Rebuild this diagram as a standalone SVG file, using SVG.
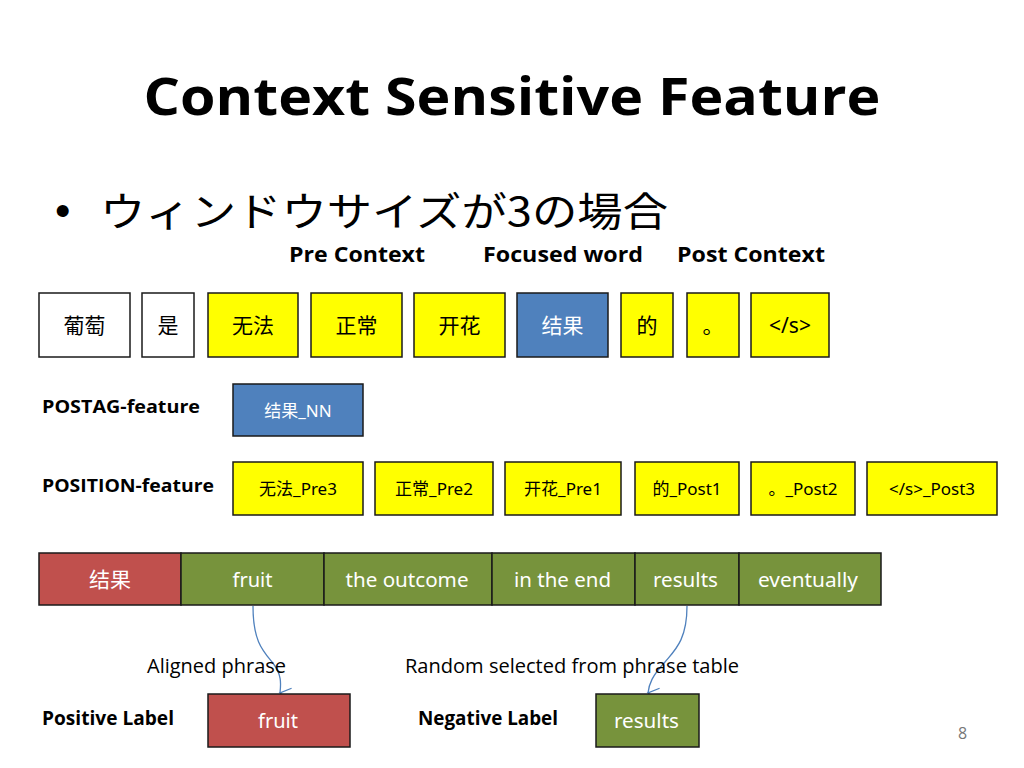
<svg xmlns="http://www.w3.org/2000/svg" width="1024" height="768" viewBox="0 0 1024 768">
<style>
.b{stroke:#1a1a1a;stroke-width:1.5}
.w{fill:#fff}.y{fill:#ffff00}.bl{fill:#4f81bd}.r{fill:#c0504d}.g{fill:#77933c}
.t{font-family:"Noto Sans","Noto Sans CJK SC",sans-serif;font-size:21px;text-anchor:middle;dominant-baseline:central;fill:#000}
.tw{fill:#fff}
.s{font-size:17px}
.m{font-size:20px}
.lb{font-family:"Open Sans","Noto Sans",sans-serif;font-weight:bold;fill:#000}
.ln{font-family:"Open Sans","Noto Sans",sans-serif;fill:#000}
.c{fill:none;stroke:#4f81bd;stroke-width:1.3}
</style>
<defs>
<marker id="ah" markerWidth="14" markerHeight="14" refX="7" refY="12" orient="auto" markerUnits="userSpaceOnUse" viewBox="0 0 14 14">
<path d="M1,1 L7,12 L13,1" fill="none" stroke="#4f81bd" stroke-width="1.3"/>
</marker>
</defs>
<rect width="1024" height="768" fill="#fff"/>
<text x="512" y="115" text-anchor="middle" font-family="'Open Sans','Noto Sans',sans-serif" font-weight="bold" font-size="52" textLength="737" lengthAdjust="spacingAndGlyphs">Context Sensitive Feature</text>
<text x="55" y="226" font-family="'Liberation Sans',sans-serif" font-size="44">•</text>
<text x="100" y="226" font-family="'Noto Sans CJK JP','Noto Sans',sans-serif" font-size="40" textLength="568" lengthAdjust="spacingAndGlyphs">ウィンドウサイズが3の場合</text>
<g class="lb" font-size="22">
<text x="289" y="262" textLength="136" lengthAdjust="spacingAndGlyphs">Pre Context</text>
<text x="483" y="262" textLength="160" lengthAdjust="spacingAndGlyphs">Focused word</text>
<text x="677" y="262" textLength="148" lengthAdjust="spacingAndGlyphs">Post Context</text>
</g>
<g id="row1">
<g id="n1"><rect class="b w" x="39" y="293" width="91" height="64"/><text class="t" x="84.5" y="325">葡萄</text></g>
<g id="n2"><rect class="b w" x="142" y="293" width="52" height="64"/><text class="t" x="168" y="325">是</text></g>
<g id="n3"><rect class="b y" x="208" y="293" width="90" height="64"/><text class="t" x="253" y="325">无法</text></g>
<g id="n4"><rect class="b y" x="311" y="293" width="91" height="64"/><text class="t" x="356.5" y="325">正常</text></g>
<g id="n5"><rect class="b y" x="414" y="293" width="91" height="64"/><text class="t" x="459.5" y="325">开花</text></g>
<g id="n6"><rect class="b bl" x="517" y="293" width="91" height="64"/><text class="t tw" x="562.5" y="325">结果</text></g>
<g id="n7"><rect class="b y" x="621" y="293" width="52" height="64"/><text class="t" x="647" y="325">的</text></g>
<g id="n8"><rect class="b y" x="687" y="293" width="52" height="64"/><text class="t" x="713" y="325">。</text></g>
<g id="n9"><rect class="b y" x="751" y="293" width="78" height="64"/><text class="t" x="790" y="325">&lt;/s&gt;</text></g>
</g>
<text class="lb" x="42" y="413" font-size="18" textLength="158" lengthAdjust="spacingAndGlyphs">POSTAG-feature</text>
<text class="lb" x="42" y="492" font-size="18" textLength="172" lengthAdjust="spacingAndGlyphs">POSITION-feature</text>
<g id="postag"><rect class="b bl" x="233" y="384" width="130" height="52"/><text class="t tw s" x="298" y="410">结果_NN</text></g>
<g id="position">
<g id="p1"><rect class="b y" x="233" y="462" width="130" height="53"/><text class="t s" x="298" y="488.5" font-size="18">无法_Pre3</text></g>
<g id="p2"><rect class="b y" x="375" y="462" width="118" height="53"/><text class="t s" x="434" y="488.5">正常_Pre2</text></g>
<g id="p3"><rect class="b y" x="505" y="462" width="116" height="53"/><text class="t s" x="563" y="488.5">开花_Pre1</text></g>
<g id="p4"><rect class="b y" x="635" y="462" width="104" height="53"/><text class="t s" x="687" y="488.5">的_Post1</text></g>
<g id="p5"><rect class="b y" x="751" y="462" width="104" height="53"/><text class="t s" x="803" y="488.5">。_Post2</text></g>
<g id="p6"><rect class="b y" x="867" y="462" width="130" height="53"/><text class="t s" x="932" y="488.5">&lt;/s&gt;_Post3</text></g>
</g>
<g id="bar">
<g id="b1"><rect class="b r" x="39" y="553" width="142" height="52"/><text class="t tw" x="110" y="579">结果</text></g>
<g id="b2"><rect class="b g" x="181" y="553" width="143" height="52"/><text class="t tw m" x="252.5" y="579" textLength="40" lengthAdjust="spacingAndGlyphs">fruit</text></g>
<g id="b3"><rect class="b g" x="324" y="553" width="168" height="52"/><text class="t tw m" x="407" y="579" textLength="123" lengthAdjust="spacingAndGlyphs">the outcome</text></g>
<g id="b4"><rect class="b g" x="492" y="553" width="143" height="52"/><text class="t tw m" x="562.5" y="579" textLength="97" lengthAdjust="spacingAndGlyphs">in the end</text></g>
<g id="b5"><rect class="b g" x="635" y="553" width="104" height="52"/><text class="t tw m" x="685.5" y="579" textLength="65" lengthAdjust="spacingAndGlyphs">results</text></g>
<g id="b6"><rect class="b g" x="739" y="553" width="142" height="52"/><text class="t tw m" x="808" y="579" textLength="100" lengthAdjust="spacingAndGlyphs">eventually</text></g>
</g>
<g id="connectors">
<path class="c" d="M253,606 C253,640 262,650 272,662 C282,674 281,684 280,693" marker-end="url(#ah)"/>
<path class="c" d="M687,606 C687,640 675,650 665,662 C652,676 649,684 648,693" marker-end="url(#ah)"/>
</g>
<text class="ln" x="147" y="673" font-size="20" textLength="139" lengthAdjust="spacingAndGlyphs">Aligned phrase</text>
<text class="ln" x="405" y="673" font-size="20" textLength="334" lengthAdjust="spacingAndGlyphs">Random selected from phrase table</text>
<text class="lb" x="42" y="725" font-size="19" textLength="132" lengthAdjust="spacingAndGlyphs">Positive Label</text>
<text class="lb" x="418" y="725" font-size="19" textLength="140" lengthAdjust="spacingAndGlyphs">Negative Label</text>
<g id="pos"><rect class="b r" x="208" y="694" width="142" height="53"/><text class="t tw m" x="278" y="720.5" textLength="40" lengthAdjust="spacingAndGlyphs">fruit</text></g>
<g id="neg"><rect class="b g" x="596" y="694" width="103" height="53"/><text class="t tw m" x="646.5" y="720.5" textLength="65" lengthAdjust="spacingAndGlyphs">results</text></g>
<text x="958" y="739" font-family="'Open Sans','Noto Sans',sans-serif" font-size="16" fill="#777">8</text>
</svg>
